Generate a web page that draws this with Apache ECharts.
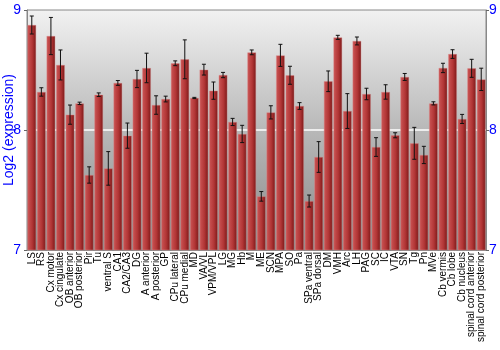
<!DOCTYPE html>
<html><head><meta charset="utf-8">
<script src="https://cdn.jsdelivr.net/npm/echarts@6/dist/echarts.min.js"></script>
<style>html,body{margin:0;padding:0;background:#fff}#c{width:500px;height:350px}</style>
</head><body><div id="c"></div>
<script>
var categories = ["LS","RS","Cx motor","Cx cingulate","OB anterior","OB posterior","Pir","Tu","ventral S","CA1","CA2/CA3","DG","A anterior","A posterior","GP","CPu lateral","CPu medial","MD","VA/VL","VPM/VPL","LG","MG","Hb","M","ME","SCN","MPA","SO","Pa","SPa ventral","SPa dorsal","DM","VMH","Arc","LH","PAG","SC","IC","VTA","SN","Tg","Pn","MVe","Cb vermis","Cb lobe","Cb nucleus","spinal cord anterior","spinal cord posterior"];
var values = [8.875,8.317,8.783,8.542,8.128,8.222,7.625,8.294,7.68,8.392,7.953,8.425,8.517,8.208,8.258,8.556,8.589,8.267,8.503,8.328,8.458,8.067,7.967,8.647,7.447,8.147,8.622,8.456,8.2,7.408,7.775,8.406,8.772,8.158,8.742,8.3,7.858,8.317,7.956,8.442,7.889,7.792,8.222,8.517,8.633,8.092,8.514,8.422];
var errors = [0.075,0.035,0.155,0.125,0.08,0.01,0.068,0.015,0.14,0.02,0.105,0.072,0.123,0.077,0.024,0.02,0.162,0.005,0.045,0.072,0.022,0.03,0.072,0.02,0.04,0.055,0.092,0.075,0.028,0.05,0.128,0.086,0.017,0.145,0.033,0.048,0.078,0.06,0.021,0.029,0.133,0.072,0.013,0.039,0.036,0.038,0.075,0.093];
var yTicks = [7, 8, 9];

var errData = values.map(function(v, i){ return [i, v - errors[i], v + errors[i]]; });
var chart = echarts.init(document.getElementById('c'));
var blue = '#0000ff';
chart.setOption({
  animation: false,
  textStyle: {fontFamily: 'Liberation Sans, Arial, sans-serif'},
  grid: {left: 27, right: 14, top: 10, bottom: 100, outerBoundsMode: 'none', containLabel: false,
    show: true, borderColor: '#888', borderWidth: 1,
    backgroundColor: new echarts.graphic.LinearGradient(0,0,0,1,[{offset:0,color:'#f2f2f2'},{offset:0.5,color:'#b8b8b8'},{offset:1,color:'#8a8a8a'}])},
  xAxis: {type: 'category', data: categories,
    axisLine: {show: true, lineStyle: {color: '#888'}}, axisTick: {show: false},
    axisLabel: {rotate: 90, interval: 0, fontSize: 10, color: '#000', margin: 2}},
  yAxis: [
    {type: 'value', min: 7, max: 9, interval: 1, name: 'Log2 (expression)', nameLocation: 'middle', nameGap: 11,
     nameMoveOverlap: false,
     nameTextStyle: {color: blue, fontSize: 14},
     axisLine: {show: true, lineStyle: {color: '#888'}}, axisTick: {show: true, length: 3, lineStyle: {color: '#666'}},
     axisLabel: {color: blue, fontSize: 14, margin: 6, formatter: function(v){ return yTicks.indexOf(v) >= 0 ? String(v) : ''; }},
     splitLine: {show: true, lineStyle: {color: ['rgba(0,0,0,0)', '#ffffff', 'rgba(0,0,0,0)'], width: 1.5}}},
    {type: 'value', min: 7, max: 9, interval: 1, position: 'right',
     axisLine: {show: true, lineStyle: {color: '#888'}}, axisTick: {show: true, length: 3, lineStyle: {color: '#666'}},
     axisLabel: {color: blue, fontSize: 14, margin: 3},
     splitLine: {show: false}}
  ],
  series: [
    {type: 'bar', data: values, barCategoryGap: '9%',
     itemStyle: {color: new echarts.graphic.LinearGradient(0,0,1,0,[{offset:0,color:'#cc5656'},{offset:0.55,color:'#b23636'},{offset:0.85,color:'#8e2222'},{offset:1,color:'#661212'}]),
       borderColor: 'rgba(220,140,140,0.7)', borderWidth: 0.6}},
    {type: 'custom', data: errData, z: 5,
     renderItem: function(params, api){
       var x = api.value(0);
       var lo = api.coord([x, api.value(1)]);
       var hi = api.coord([x, api.value(2)]);
       var hw = 2;
       var st = {stroke: '#111', lineWidth: 1};
       return {type: 'group', children: [
         {type: 'line', shape: {x1: lo[0], y1: lo[1], x2: hi[0], y2: hi[1]}, style: st},
         {type: 'line', shape: {x1: lo[0]-hw, y1: lo[1], x2: lo[0]+hw, y2: lo[1]}, style: st},
         {type: 'line', shape: {x1: hi[0]-hw, y1: hi[1], x2: hi[0]+hw, y2: hi[1]}, style: st}
       ]};
     }}
  ]
});
</script></body></html>
